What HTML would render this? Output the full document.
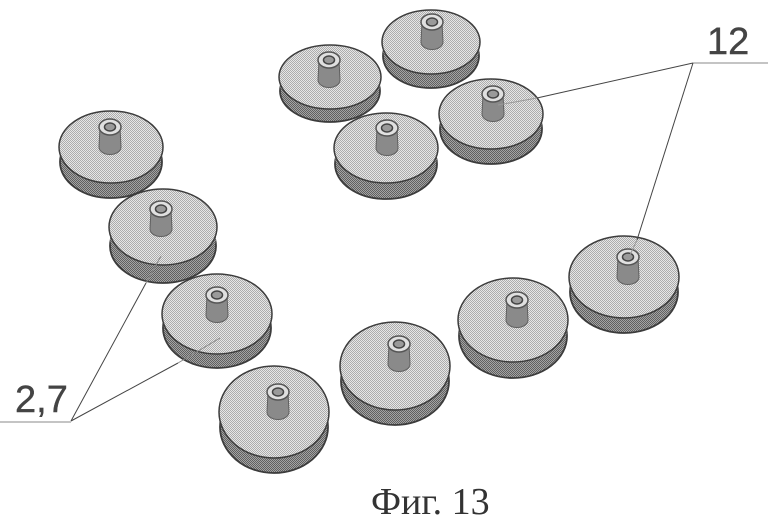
<!DOCTYPE html>
<html><head><meta charset="utf-8"><style>
html,body{margin:0;padding:0;background:#fff}
svg{display:block}
.t{fill:url(#top);stroke:#3c3c3c;stroke-width:1.5}
.s{fill:url(#side);stroke:#3c3c3c;stroke-width:1.8}
.m{fill:url(#side);stroke:none}
</style></head><body>
<svg width="771" height="522" viewBox="0 0 771 522" xmlns="http://www.w3.org/2000/svg">
<defs>
<pattern id="top" width="2" height="2" patternUnits="userSpaceOnUse"><rect width="2" height="2" fill="#e6e6e6"/><rect width="1" height="1" fill="#acacac"/><rect x="1" y="1" width="1" height="1" fill="#acacac"/></pattern>
<pattern id="side" width="2" height="2" patternUnits="userSpaceOnUse"><rect width="2" height="2" fill="#a4a4a4"/><rect width="1" height="1" fill="#606060"/><rect x="1" y="1" width="1" height="1" fill="#606060"/></pattern>
<g id="pin">
<path d="M-10 0 L-11 20 A11 7.5 0 0 0 11 20 L10 0 Z" fill="#8a8a8a" stroke="#606060" stroke-width="1"/>
<ellipse cx="0" cy="0" rx="11" ry="8" fill="#e0e0e0" stroke="#555" stroke-width="1.5"/>
<ellipse cx="0" cy="0" rx="5.5" ry="4" fill="#9a9a9a" stroke="#444" stroke-width="1.5"/>
</g>
</defs>
<rect width="771" height="522" fill="#fff"/>

<ellipse class="s" cx="111" cy="162" rx="51" ry="36"/><ellipse class="m" cx="111" cy="153" rx="51" ry="36"/><ellipse class="t" cx="111" cy="147" rx="52" ry="36"/><use href="#pin" x="110" y="127"/>

<ellipse class="s" cx="163" cy="246" rx="53" ry="37"/><ellipse class="m" cx="163" cy="237" rx="53" ry="37"/><ellipse class="t" cx="163" cy="227" rx="54" ry="38"/><use href="#pin" x="161" y="209"/>

<ellipse class="s" cx="217" cy="328" rx="54" ry="40"/><ellipse class="m" cx="217" cy="320" rx="54" ry="40"/><ellipse class="t" cx="217" cy="314" rx="55" ry="40"/><use href="#pin" x="217" y="295"/>

<ellipse class="s" cx="274" cy="427" rx="54" ry="46"/><ellipse class="m" cx="274" cy="419" rx="54" ry="46"/><ellipse class="t" cx="274" cy="412" rx="55" ry="46"/><use href="#pin" x="278" y="392"/>

<ellipse class="s" cx="395" cy="381" rx="54" ry="44"/><ellipse class="m" cx="395" cy="373" rx="54" ry="44"/><ellipse class="t" cx="395" cy="366" rx="55" ry="44"/><use href="#pin" x="399" y="344"/>

<ellipse class="s" cx="513" cy="336" rx="54" ry="42"/><ellipse class="m" cx="513" cy="328" rx="54" ry="42"/><ellipse class="t" cx="513" cy="320" rx="55" ry="42"/><use href="#pin" x="517" y="300"/>

<ellipse class="s" cx="624" cy="292" rx="54" ry="41"/><ellipse class="m" cx="624" cy="284" rx="54" ry="41"/><ellipse class="t" cx="624" cy="277" rx="55" ry="41"/><use href="#pin" x="628" y="257"/>

<ellipse class="s" cx="330" cy="91" rx="50" ry="31"/><ellipse class="m" cx="330" cy="84" rx="50" ry="31"/><ellipse class="t" cx="330" cy="77" rx="51" ry="32"/><use href="#pin" x="329" y="60"/>

<ellipse class="s" cx="431" cy="56" rx="48" ry="32"/><ellipse class="m" cx="431" cy="49" rx="48" ry="32"/><ellipse class="t" cx="431" cy="42" rx="49" ry="32"/><use href="#pin" x="432" y="22"/>

<ellipse class="s" cx="491" cy="129" rx="51" ry="35"/><ellipse class="m" cx="491" cy="121" rx="51" ry="35"/><ellipse class="t" cx="491" cy="114" rx="52" ry="35"/><use href="#pin" x="493" y="94"/>

<ellipse class="s" cx="386" cy="164" rx="51" ry="35"/><ellipse class="m" cx="386" cy="156" rx="51" ry="35"/><ellipse class="t" cx="386" cy="148" rx="52" ry="35"/><use href="#pin" x="387" y="128"/>

<g fill="none" stroke-width="1">
<path d="M693 63H768" stroke="#888"/>
<path d="M693 63L537 98" stroke="#444"/>
<path d="M537 98L498 105" stroke="#999"/>
<path d="M693 63L637 240" stroke="#444"/>
<path d="M637 240L630 255" stroke="#999"/>
<path d="M0 422H71" stroke="#888"/>
<path d="M71 421L146 283" stroke="#444"/>
<path d="M146 283L161 256" stroke="#888"/>
<path d="M71 421L178 363" stroke="#444"/>
<path d="M178 363L220 338" stroke="#888"/>
</g>
<text x="707" y="54" font-family="'Liberation Sans',sans-serif" font-size="38" fill="#444" stroke="#444" stroke-width="0.4">12</text>
<text x="15" y="412" font-family="'Liberation Sans',sans-serif" font-size="38" fill="#444" stroke="#444" stroke-width="0.4">2,7</text>
<text x="371" y="514" font-family="'Liberation Serif',serif" font-size="38" fill="#333">Фиг. 13</text>
</svg>
</body></html>
